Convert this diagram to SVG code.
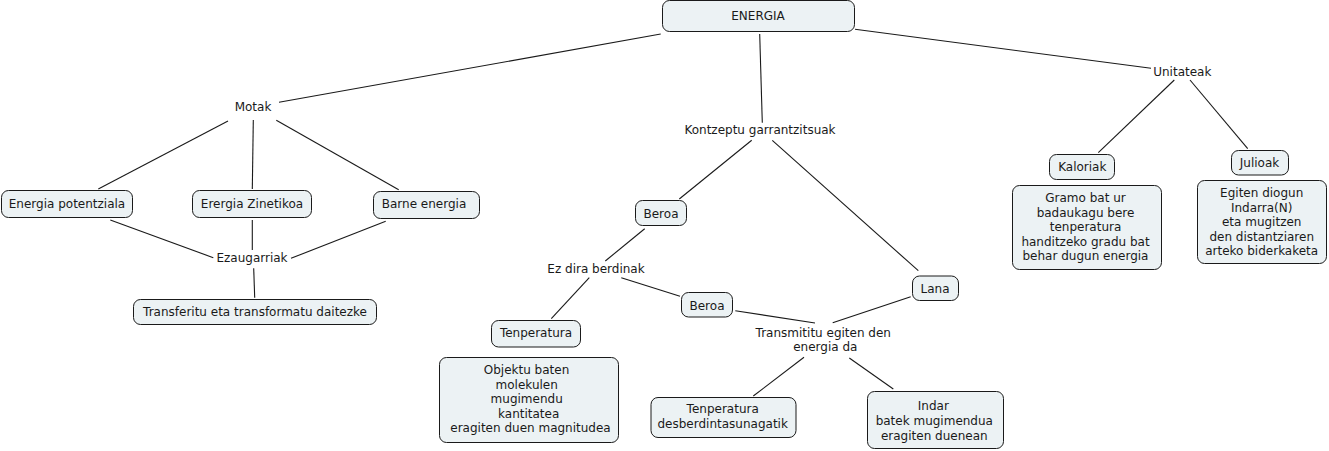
<svg xmlns="http://www.w3.org/2000/svg" width="1329" height="451" viewBox="0 0 1329 451">
<style>
.box{fill:#ecf2f4;stroke:#1a1a1a;stroke-width:1}
text{font-family:"DejaVu Sans","Liberation Sans",sans-serif;font-size:12px;fill:#1a1a1a;text-anchor:middle}
.c line{stroke:#1a1a1a;stroke-width:1.1}
</style>
<rect width="1329" height="451" fill="#ffffff"/>
<g class="c" id="connectors">
<line x1="279" y1="102.3" x2="660.7" y2="34"/>
<line x1="228" y1="121" x2="98.3" y2="189"/>
<line x1="253.3" y1="120" x2="252.3" y2="189"/>
<line x1="276.3" y1="120.3" x2="398.7" y2="189.7"/>
<line x1="110.3" y1="220" x2="213.3" y2="257.7"/>
<line x1="252.3" y1="220" x2="252.3" y2="250"/>
<line x1="385.7" y1="221.3" x2="291" y2="258.3"/>
<line x1="253.7" y1="268.3" x2="254.7" y2="297.7"/>
<line x1="759.7" y1="34" x2="762.3" y2="122.7"/>
<line x1="751.7" y1="140.3" x2="679.3" y2="199"/>
<line x1="772.3" y1="140.3" x2="918.3" y2="270.7"/>
<line x1="644.7" y1="228.7" x2="605.3" y2="261"/>
<line x1="589.3" y1="277.7" x2="551.3" y2="318.7"/>
<line x1="621.3" y1="277.7" x2="680" y2="296.3"/>
<line x1="735.3" y1="310.7" x2="815" y2="323"/>
<line x1="910.7" y1="296.7" x2="832.7" y2="322.7"/>
<line x1="804" y1="357.3" x2="753.3" y2="396"/>
<line x1="849.3" y1="358" x2="893.3" y2="389"/>
<line x1="855" y1="29.3" x2="1151" y2="68.3"/>
<line x1="1174.3" y1="80" x2="1098.3" y2="152.7"/>
<line x1="1190" y1="80" x2="1247.7" y2="148.7"/>
</g>
<g id="energia"><rect class="box" x="662.5" y="0.5" width="192" height="31" rx="7"/><text x="758" y="20">ENERGIA</text></g>
<g id="motak"><text x="253" y="111">Motak</text></g>
<g id="energia-potentziala"><rect class="box" x="1.5" y="190.5" width="131" height="27" rx="7"/><text x="67" y="207.5">Energia potentziala</text></g>
<g id="erergia-zinetikoa"><rect class="box" x="192.5" y="190.5" width="119" height="27" rx="7"/><text x="252" y="207.5">Erergia Zinetikoa</text></g>
<g id="barne-energia"><rect class="box" x="373.5" y="191.5" width="106" height="27" rx="7"/><text x="424" y="208">Barne energia</text></g>
<g id="ezaugarriak"><text x="252" y="262">Ezaugarriak</text></g>
<g id="transferitu"><rect class="box" x="133.5" y="299.5" width="243" height="25" rx="7"/><text x="255" y="316">Transferitu eta transformatu daitezke</text></g>
<g id="kontzeptu"><text x="760" y="134">Kontzeptu garrantzitsuak</text></g>
<g id="beroa1"><rect class="box" x="635.5" y="200.5" width="51" height="25" rx="7"/><text x="661" y="217.5">Beroa</text></g>
<g id="ez-dira"><text x="596" y="272.5">Ez dira berdinak</text></g>
<g id="tenperatura"><rect class="box" x="491.5" y="320.5" width="89" height="26.5" rx="7"/><text x="536" y="336.5">Tenperatura</text></g>
<g id="objektu"><rect class="box" x="439.5" y="357.5" width="179" height="85" rx="7"/>
<text x="526.5" y="374">Objektu baten</text><text x="526.7" y="388.5">molekulen</text><text x="526.7" y="403">mugimendu</text><text x="528.7" y="417.5">kantitatea</text><text x="530.5" y="432">eragiten duen magnitudea</text></g>
<g id="beroa2"><rect class="box" x="681.5" y="292.5" width="51" height="24.5" rx="7"/><text x="707" y="309.5">Beroa</text></g>
<g id="lana"><rect class="box" x="912.5" y="276" width="46" height="24.5" rx="7"/><text x="935" y="293">Lana</text></g>
<g id="transmititu"><text x="823.3" y="336.5">Transmititu egiten den</text><text x="825.3" y="351">energia da</text></g>
<g id="tenperatura-desb"><rect class="box" x="651" y="397.5" width="145" height="40" rx="7"/><text x="722.7" y="412.5">Tenperatura</text><text x="722.7" y="427.5">desberdintasunagatik</text></g>
<g id="indar"><rect class="box" x="867.5" y="391.5" width="136" height="57" rx="7"/><text x="933.3" y="410">Indar</text><text x="934.3" y="424.5">batek mugimendua</text><text x="934.3" y="439.5">eragiten duenean</text></g>
<g id="unitateak"><text x="1182.3" y="76">Unitateak</text></g>
<g id="kaloriak"><rect class="box" x="1049.5" y="154.5" width="65" height="25" rx="7"/><text x="1082.3" y="171">Kaloriak</text></g>
<g id="julioak"><rect class="box" x="1231.5" y="150.5" width="57" height="24.5" rx="7"/><text x="1259.5" y="167">Julioak</text></g>
<g id="gramo"><rect class="box" x="1012.5" y="185.5" width="149" height="84" rx="7"/>
<text x="1085.5" y="202">Gramo bat ur</text><text x="1085.5" y="216.5">badaukagu bere</text><text x="1085.5" y="231">tenperatura</text><text x="1085.5" y="245.5">handitzeko gradu bat</text><text x="1085.5" y="260">behar dugun energia</text></g>
<g id="egiten"><rect class="box" x="1197.5" y="180.5" width="129" height="83" rx="7"/>
<text x="1261.7" y="197">Egiten diogun</text><text x="1261.7" y="211.5">Indarra(N)</text><text x="1261.7" y="226">eta mugitzen</text><text x="1261.7" y="240.5">den distantziaren</text><text x="1261.7" y="255">arteko biderkaketa</text></g>
</svg>
